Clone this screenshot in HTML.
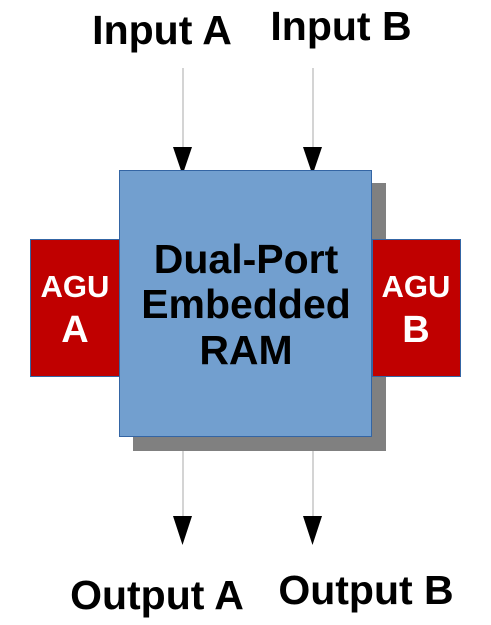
<!DOCTYPE html>
<html><head><style>html,body{margin:0;padding:0;background:#fff}svg{display:block}</style></head>
<body>
<svg width="491" height="625" xmlns="http://www.w3.org/2000/svg" font-family="Liberation Sans, sans-serif" font-weight="bold">
<rect width="491" height="625" fill="#fff"/>
<line x1="183" y1="68" x2="183" y2="150" stroke="#aaa" stroke-width="1"/>
<line x1="313" y1="68" x2="313" y2="150" stroke="#aaa" stroke-width="1"/>
<line x1="183" y1="450" x2="183" y2="518" stroke="#aaa" stroke-width="1"/>
<line x1="313" y1="450" x2="313" y2="518" stroke="#aaa" stroke-width="1"/>
<polygon points="173,147 192,147 182.5,175" fill="#000"/>
<polygon points="303,147 322,147 312.5,175" fill="#000"/>
<polygon points="173,516 192,516 182.5,545" fill="#000"/>
<polygon points="303,516 322,516 312.5,545" fill="#000"/>
<rect x="133" y="183" width="253" height="268" fill="#808080"/>
<rect x="119.5" y="170.5" width="252" height="266" fill="#729fcf" stroke="#3465a4" stroke-width="1"/>
<rect x="30.5" y="239.5" width="89" height="137" fill="#c00000" stroke="#3465a4" stroke-width="1"/>
<rect x="372.5" y="239.5" width="88" height="137" fill="#c00000" stroke="#3465a4" stroke-width="1"/>
<g fill="#fff" text-anchor="middle">
<text x="75" y="297" font-size="31">AGU</text>
<text x="75" y="342" font-size="38">A</text>
<text x="416" y="297" font-size="31">AGU</text>
<text x="416" y="342" font-size="38">B</text>
</g>
<g fill="#000" text-anchor="middle" font-size="41">
<text x="246" y="273">Dual-Port</text>
<text x="246" y="318">Embedded</text>
<text x="246" y="364">RAM</text>
<text x="162" y="44">Input A</text>
<text x="341" y="40">Input B</text>
<text x="157" y="609">Output A</text>
<text x="366" y="604">Output B</text>
</g>
</svg>
</body></html>
